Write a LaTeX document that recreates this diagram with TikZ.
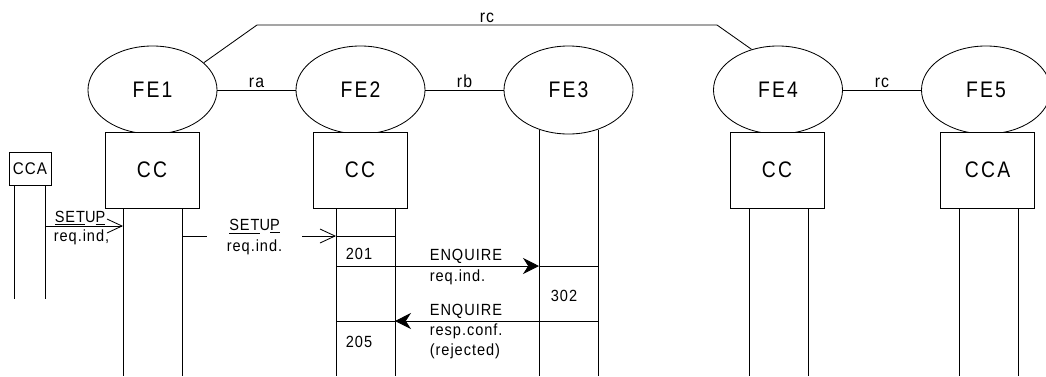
\documentclass[tikz,border=0pt]{standalone}
\usepackage{fontspec}
\setmainfont{Liberation Sans}
\newfontfamily\spaced[LetterSpace=10, FakeStretch=0.86]{Liberation Sans}
\newfontfamily\narrow[LetterSpace=6, FakeStretch=0.9]{Liberation Sans}
\usetikzlibrary{shapes.geometric,arrows.meta,calc,positioning}

\begin{document}
\begin{tikzpicture}[
    x=0.025cm, y=-0.025cm, line width=0.6pt,
    fe/.style={draw, ellipse, minimum width=3.225cm, minimum height=2.2cm, inner sep=0pt, font=\spaced\fontsize{16}{18}\selectfont},
    ccbox/.style={draw, fill=white, minimum width=2.35cm, minimum height=1.9cm, inner sep=0pt, font=\spaced\fontsize{16}{18}\selectfont},
    relname/.style={font=\narrow\fontsize{12.5}{14}\selectfont, inner sep=1.5pt},
    msg/.style={font=\narrow\fontsize{11.5}{14.5}\selectfont, inner sep=1pt, align=left},
    state/.style={font=\narrow\fontsize{11.5}{13}\selectfont},
    setuparrow/.style={-{Straight Barb[length=0.375cm, width=0.35cm]}},
    enqarrow/.style={-{Stealth[length=0.4cm, width=0.4cm, inset=0.13cm]}}
]
\useasboundingbox (0,0) rectangle (1046,376);

% ===== FUNCTIONAL ENTITIES =====
\node[fe] (FE1) at (152.5, 90) {FE1};
\node[fe] (FE2) at (360.5, 90) {FE2};
\node[fe] (FE3) at (568.5, 90) {FE3};
\node[fe] (FE4) at (778, 90) {FE4};
\node[fe] (FE5) at (986, 90) {FE5};

% relationships
\draw (FE1.east) -- node[relname, above] {ra} (FE2.west);
\draw (FE2.east) -- node[relname, above] {rb} (FE3.west);
\draw (FE4.east) -- node[relname, above] {rc} (FE5.west);
\coordinate (rcL) at (257, 25);
\coordinate (rcR) at (717, 25);
\draw (FE1.28) -- (rcL) -- node[relname, above] {rc} (rcR) -- (FE4.123);

% ===== CALL CONTROL BOXES =====
\node[ccbox] (CC1) at (152, 170) {CC};
\node[ccbox] (CC2) at (360, 170) {CC};
\node[ccbox] (CC4) at (777, 170) {CC};
\node[ccbox] (CCA5) at (987.5, 170) {CCA};
\node[draw, minimum width=1.05cm, minimum height=0.825cm, inner sep=0pt, font=\narrow\fontsize{12}{14}\selectfont] (CCA0) at (30, 168.5) {CCA};

% ===== LIFELINES =====
\coordinate (L0a) at (14, 185);  \coordinate (L0b) at (45, 185);
\coordinate (L1a) at (123, 208); \coordinate (L1b) at (182, 208);
\coordinate (L2a) at (336, 208); \coordinate (L2b) at (395, 208);
\coordinate (L3a) at (539, 130); \coordinate (L3b) at (598, 130);
\coordinate (L4a) at (749, 208); \coordinate (L4b) at (808, 208);
\coordinate (L5a) at (959, 208); \coordinate (L5b) at (1018, 208);
\draw (L0a) -- ++(0, 114);
\draw (L0b) -- ++(0, 114);
\foreach \l in {L1a, L1b, L2a, L2b, L4a, L4b, L5a, L5b} {
    \draw (\l) -- ++(0, 168);
}
\draw (L3a) -- ++(0, 246);
\draw (L3b) -- ++(0, 246);

% ===== MESSAGES =====
\coordinate (m1) at (0, 226);
\coordinate (m2) at (0, 236);
\coordinate (m3) at (0, 266);
\coordinate (m4) at (0, 321);

% SETUP from CCA to FE1
\draw[setuparrow] (L0b |- m1) -- (L1a |- m1);
\node[msg, anchor=south] (su1) at (80, 227) {\underline{SET}U\underline{P}};
\node[msg, anchor=north west] (ri1) at (52, 228) {req.ind,};

% SETUP from FE1 to FE2
\draw[setuparrow] (L1b |- m2) -- (L2a |- m2);
\node[msg, fill=white, align=center, minimum width=2.375cm] (su2) at (254.5, 237) {\underline{SET}U\underline{P}\\req.ind.};
\draw (L2a |- m2) -- (L2b |- m2);

% ENQUIRE from FE2 to FE3
\draw (L2a |- m3) -- (L2b |- m3);
\draw[enqarrow] (L2b |- m3) -- (L3a |- m3);
\draw (L3a |- m3) -- (L3b |- m3);
\node[msg, anchor=south west] (enq1) at (428, 265) {ENQUIRE};
\node[msg, anchor=north west] (ri3) at (428, 268) {req.ind.};

% ENQUIRE back from FE3 to FE2
\draw (L3b |- m4) -- (L3a |- m4);
\draw[enqarrow] (L3a |- m4) -- (L2b |- m4);
\draw (L2b |- m4) -- (L2a |- m4);
\node[msg, anchor=south west] (enq2) at (428, 320) {ENQUIRE};
\node[msg, anchor=north west] (rc4) at (428, 322) {resp.conf.\\(rejected)};

% ===== STATES =====
\node[state] (s201) at (359, 254) {201};
\node[state] (s302) at (564, 296) {302};
\node[state] (s205) at (359, 342) {205};

\end{tikzpicture}
\end{document}
